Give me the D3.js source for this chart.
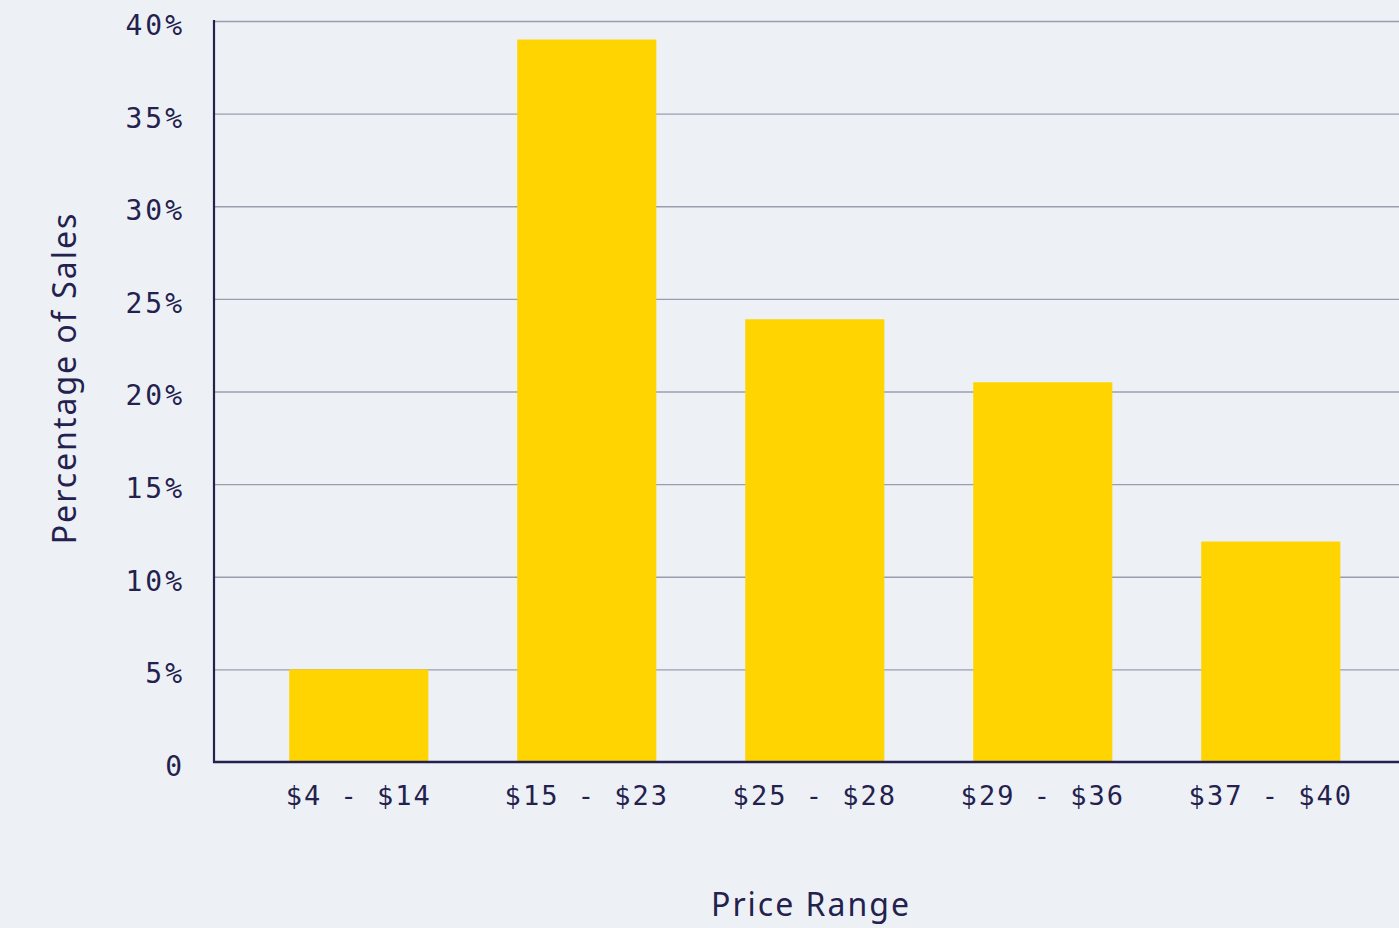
<!DOCTYPE html>
<html>
<head>
<meta charset="utf-8">
<script src="https://cdn.jsdelivr.net/npm/d3@7"></script>
<style>
  html, body { margin: 0; padding: 0; background: #EDF1F5; overflow: hidden; }
  svg { display: block; }
</style>
</head>
<body>
<svg id="chart" width="1399" height="928"></svg>
<script>
const categories = ["$4 - $14", "$15 - $23", "$25 - $28", "$29 - $36", "$37 - $40"];
const values = [5.0, 39.0, 23.9, 20.5, 11.9];
const yTicks = [0, 5, 10, 15, 20, 25, 30, 35, 40];
const yTickLabels = ["0", "5%", "10%", "15%", "20%", "25%", "30%", "35%", "40%"];
const xTitle = "Price Range";
const yTitle = "Percentage of Sales";

const W = 1399, H = 928;
const mLeft = 214, mTop = 21, mBottom = 762;
const navy = "#24214f";

const svg = d3.select("#chart");
svg.append("rect").attr("width", W).attr("height", H).attr("fill", "#EDF1F5");

const y = d3.scaleLinear().domain([0, 40]).range([mBottom, mTop]);
const x = d3.scaleBand().domain(categories)
  .range([mLeft, mLeft + 228 * 5.27])
  .paddingInner(0.39).paddingOuter(0.33);

// gridlines
svg.append("g").selectAll("line").data(yTicks.filter(t => t > 0)).join("line")
  .attr("x1", mLeft).attr("x2", W)
  .attr("y1", d => y(d) + 0.5).attr("y2", d => y(d) + 0.5)
  .attr("stroke", "#9c9cb0").attr("stroke-width", 1.3);

// bars
svg.append("g").selectAll("rect").data(values).join("rect")
  .attr("x", (d, i) => x(categories[i]))
  .attr("width", x.bandwidth())
  .attr("y", d => y(d))
  .attr("height", d => mBottom - y(d))
  .attr("fill", "#FFD400");

// y axis
const yAxis = d3.axisLeft(y).tickValues(yTicks)
  .tickFormat((d, i) => yTickLabels[i]).tickSize(0).tickPadding(29);
const gy = svg.append("g").attr("transform", `translate(${mLeft},0)`).call(yAxis);
gy.select(".domain").remove();
gy.selectAll("text")
  .attr("font-family", "'DejaVu Sans Mono', monospace")
  .attr("font-size", 28).attr("letter-spacing", 3)
  .attr("fill", navy).attr("dy", "0.48em");

svg.append("line").attr("x1", mLeft).attr("x2", mLeft)
  .attr("y1", mTop - 1).attr("y2", mBottom + 1)
  .attr("stroke", navy).attr("stroke-width", 2.2);

// x axis
const xAxis = d3.axisBottom(x).tickSize(0).tickPadding(24);
const gx = svg.append("g").attr("transform", `translate(0,${mBottom})`).call(xAxis);
gx.select(".domain").remove();
gx.selectAll("text")
  .attr("font-family", "'DejaVu Sans Mono', monospace")
  .attr("font-size", 27).attr("letter-spacing", 2)
  .attr("fill", navy).attr("dy", "0.71em");

svg.append("line").attr("x1", mLeft - 1).attr("x2", W)
  .attr("y1", mBottom).attr("y2", mBottom)
  .attr("stroke", navy).attr("stroke-width", 2.6);

// titles
svg.append("text").attr("x", 811).attr("y", 916)
  .attr("text-anchor", "middle")
  .attr("font-family", "'Noto Sans', sans-serif").attr("font-size", 32)
  .attr("letter-spacing", 2).attr("fill", navy).text(xTitle);

svg.append("text")
  .attr("transform", "translate(76,378) rotate(-90)")
  .attr("text-anchor", "middle")
  .attr("font-family", "'Noto Sans', sans-serif").attr("font-size", 32)
  .attr("letter-spacing", 2).attr("fill", navy).text(yTitle);
</script>
</body>
</html>
